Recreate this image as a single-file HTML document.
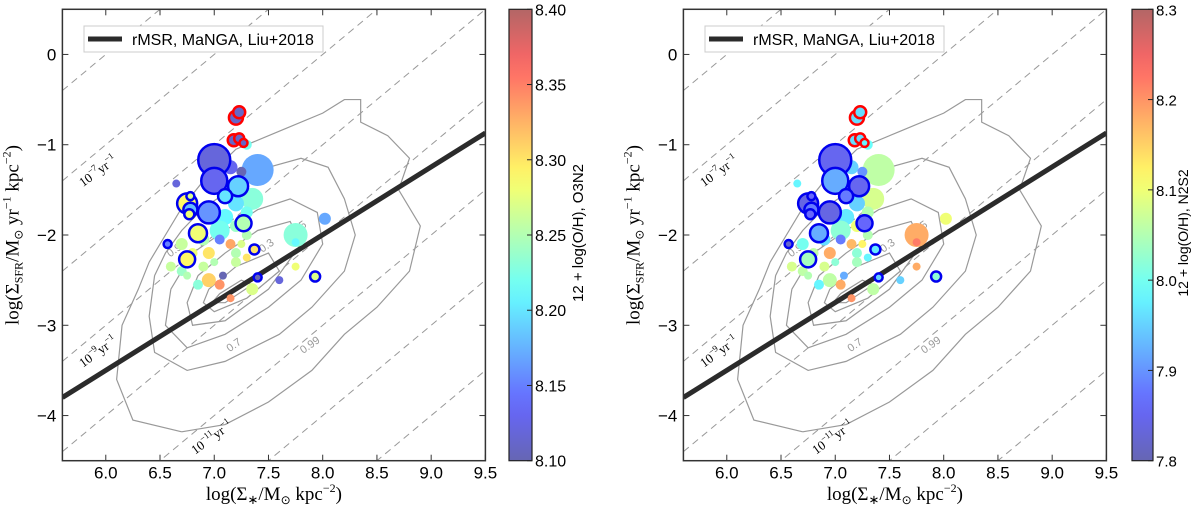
<!DOCTYPE html>
<html><head><meta charset="utf-8">
<style>
html,body{margin:0;padding:0;background:#fff;overflow:hidden;width:1200px;height:515px;}
svg{display:block;position:absolute;left:0;top:0;font-family:"Liberation Sans",sans-serif;}
.tk{font-size:17px;fill:#000;}
.serif{font-family:"Liberation Serif",serif;}
</style></head>
<body>
<svg id="fig" width="1200" height="515" viewBox="0 0 1200 515" xmlns="http://www.w3.org/2000/svg"></svg>
<script>
// ---- data ----
const xTicks = [6.0,6.5,7.0,7.5,8.0,8.5,9.0,9.5];
const yTicks = [0,-1,-2,-3,-4];
const ssfrLines = [-6,-7,-8,-9,-10,-11,-12,-13];
const ssfrLabels = [-7,-9,-11];
const relation = [[5.6,-3.8],[9.5,-0.87]];
const ptX = [7.20,7.23,7.18,7.23,7.27, 7.00,7.00,7.22,6.75,6.78,6.77,6.78,6.95,7.10,6.85,7.27,6.57,6.75,7.37,7.40,7.93, 7.40,7.30,7.15,7.25,6.65,7.35,7.20,7.30,7.10,7.05,7.20,7.30,7.05,7.15,6.90,6.70,6.80,6.95,7.20,7.25,6.60,6.70,6.90,7.00,7.20,7.30,6.95,7.05,6.85,7.08,7.35,7.15,7.60,7.75,7.75,8.02,7.75,6.75];
const ptY = [-0.70,-0.64,-0.95,-0.93,-0.98, -1.17,-1.40,-1.46,-1.65,-1.72,-1.77,-1.57,-1.75,-1.57,-1.98,-1.87,-2.10,-2.27,-2.16,-2.47,-2.46, -1.28,-1.00,-1.25,-1.30,-1.43,-1.60,-1.65,-1.75,-1.80,-1.95,-1.90,-2.00,-2.05,-2.10,-2.05,-2.10,-2.20,-2.20,-2.20,-2.10,-2.35,-2.40,-2.35,-2.30,-2.30,-2.25,-2.50,-2.55,-2.55,-2.45,-2.60,-2.70,-2.50,-2.00,-2.08,-1.82,-2.35,-2.45];
const ptR = [7,6,6,5,4, 16,13,10,10,7,5,4,11,7,9,8,4,8,5,4,5, 16,5,7,5,4,11,8,6,8,10,6,5,5,5,6,6,5,6,5,4,5,5,5,4,5,4,7,5,5,4,6,4,4,12,4,6,4,4];
const ptEdge = [2,2,2,2,2, 1,1,1,1,1,1,1,1,1,1,1,1,1,1,1,1, 0,0,0,0,0,0,0,0,0,0,0,0,0,0,0,0,0,0,0,0,0,0,0,0,0,0,0,0,0,0,0,0,0,0,0,0,0,0];
const zO3N2 = [8.11,8.11,8.11,8.11,8.11, 8.12,8.13,8.19,8.29,8.18,8.28,8.27,8.16,8.20,8.28,8.25,8.15,8.29,8.30,8.10,8.27, 8.17,8.22,8.13,8.10,8.12,8.23,8.20,8.22,8.21,8.22,8.24,8.25,8.15,8.33,8.25,8.26,8.28,8.30,8.25,8.27,8.26,8.24,8.26,8.25,8.26,8.30,8.31,8.34,8.23,8.10,8.27,8.34,8.12,8.23,8.21,8.17,8.28,8.25];
const zN2S2 = [7.96,7.96,7.96,7.96,7.98, 7.85,7.92,7.85,7.84,7.88,7.86,7.86,7.84,7.88,7.92,7.86,7.82,8.04,7.97,7.95,8.02, 8.06,7.99,7.95,7.90,7.98,8.08,7.95,8.05,7.97,8.02,8.10,8.05,7.88,8.17,7.96,8.00,8.06,8.18,8.02,8.12,8.08,8.06,8.08,8.02,8.04,7.98,8.06,8.18,7.98,7.92,8.06,8.20,7.95,8.18,8.22,8.10,8.18,8.05];
const contours = [
 [[6.7,-4.18],[6.25,-4.05],[6.1,-3.6],[6.15,-3.0],[6.3,-2.6],[6.4,-2.3],[6.55,-2.0],[6.7,-1.7],[6.9,-1.4],[7.2,-1.05],[7.6,-0.85],[8.0,-0.65],[8.2,-0.5],[8.35,-0.5],[8.35,-0.75],[8.6,-0.9],[8.8,-1.15],[8.7,-1.5],[8.9,-1.9],[8.8,-2.4],[8.5,-2.8],[8.2,-3.1],[7.9,-3.5],[7.5,-3.85],[7.1,-4.1],[6.7,-4.18]],
 [[6.45,-2.45],[6.55,-2.2],[6.7,-1.95],[6.9,-1.7],[7.15,-1.5],[7.5,-1.25],[7.8,-1.15],[8.05,-1.25],[8.2,-1.6],[8.3,-2.0],[8.2,-2.4],[7.9,-2.8],[7.6,-3.1],[7.1,-3.4],[6.75,-3.5],[6.45,-3.3],[6.4,-2.9],[6.45,-2.45]],
 [[6.6,-2.6],[6.8,-2.2],[7.1,-1.95],[7.4,-1.72],[7.7,-1.6],[7.95,-1.75],[8.0,-2.1],[7.8,-2.5],[7.5,-2.8],[7.1,-3.1],[6.75,-3.25],[6.55,-3.0],[6.6,-2.6]],
 [[6.85,-2.45],[7.1,-2.2],[7.4,-1.95],[7.7,-1.85],[7.8,-2.1],[7.5,-2.6],[7.1,-2.95],[6.8,-3.0],[6.75,-2.75],[6.85,-2.45]],
 [[6.95,-2.6],[7.2,-2.35],[7.5,-2.2],[7.6,-2.4],[7.3,-2.7],[7.0,-2.85],[6.9,-2.75],[6.95,-2.6]],
 [[7.05,-2.65],[7.25,-2.5],[7.35,-2.55],[7.1,-2.75],[6.98,-2.75],[7.05,-2.65]]
];
const contourLabels = ["0.9","0.3","0.5","0.7","0.99"];
const contourLabelX = [6.65,7.5,7.8,7.2,7.9];
const contourLabelY = [-2.2,-2.15,-1.95,-3.25,-3.25];
const cbTicksL = [8.10,8.15,8.20,8.25,8.30,8.35,8.40];
const cbTicksR = [7.8,7.9,8.0,8.1,8.2,8.3];

const NS="http://www.w3.org/2000/svg";
const svg=document.getElementById('fig');
function mk(tag,attrs,parent){const e=document.createElementNS(NS,tag);for(const k in attrs)e.setAttribute(k,attrs[k]);(parent||svg).appendChild(e);return e;}
function jet(t){t=Math.max(0,Math.min(1,t));const c=v=>Math.max(0,Math.min(1,v));
 const r=c(1.5-Math.abs(4*t-3)),g=c(1.5-Math.abs(4*t-2)),b=c(1.5-Math.abs(4*t-1));
 const a=0.6;const m=v=>Math.round(255*(v*a+(1-a)));return `rgb(${m(r)},${m(g)},${m(b)})`;}

function panel(off,zvals,zmin,zmax,cbTicks,cbLabel,cbx,cbw,cbTitleOff,cbFont,cbTitleFont,pfx,dec){
 const L=62.4+off,R=485.4+off,T=9.3,B=460.7;
 const sx=x=>L+(x-5.6)*(R-L)/3.9, sy=y=>T+(0.5-y)*(B-T)/5;
 const g=mk('g',{});
 
 
 const cp=mk('clipPath',{id:pfx+'clip'},g);mk('rect',{x:L,y:T,width:R-L,height:B-T},cp);
 const inner=mk('g',{'clip-path':`url(#${pfx}clip)`},g);
 ssfrLines.forEach(c=>{const l=mk('line',{x1:sx(5.6),y1:sy(5.6+c),x2:sx(9.5),y2:sy(9.5+c),stroke:'#999','stroke-width':1,'stroke-dasharray':'7,5'},inner);
  });
 contours.forEach(cn=>{const p=mk('polyline',{points:cn.map(q=>sx(q[0])+','+sy(q[1])).join(' '),fill:'none',stroke:'#999','stroke-width':1.2},inner);
  });
 contourLabels.forEach((s,i)=>{const t=mk('text',{x:sx(contourLabelX[i]),y:sy(contourLabelY[i]),'font-size':11,fill:'#999','text-anchor':'middle',transform:`rotate(-35 ${sx(contourLabelX[i])} ${sy(contourLabelY[i])})`},inner);t.textContent=s;
  });
 ssfrLabels.forEach(c=>{const xx=5.95+(c===-11?1.05:0),yy=xx+c-0.28;const t=mk('text',{x:sx(xx),y:sy(yy),'font-size':13,'class':'serif','text-anchor':'middle',transform:`rotate(-36 ${sx(xx)} ${sy(yy)})`},inner);
  t.innerHTML=`10<tspan dy="-6" font-size="9">−${-c}</tspan><tspan dy="6">yr</tspan><tspan dy="-6" font-size="9">−1</tspan>`;
  });
 const rl=mk('line',{x1:sx(relation[0][0]),y1:sy(relation[0][1]),x2:sx(relation[1][0]),y2:sy(relation[1][1]),stroke:'#2b2b2b','stroke-width':5},inner);
 
 const order=ptX.map((_,i)=>i).sort((a,b)=>(ptEdge[a]?1:0)-(ptEdge[b]?1:0));
 order.forEach(i=>{const col=jet((zvals[i]-zmin)/(zmax-zmin));
  const e=ptEdge[i];const c=mk('circle',{cx:sx(ptX[i]),cy:sy(ptY[i]),r:ptR[i],fill:col,stroke:e===1?'#0000ee':e===2?'#ff0000':'none','stroke-width':e?2.5:0},inner);
  });
 mk('rect',{x:L,y:T,width:R-L,height:B-T,fill:'none',stroke:'#333','stroke-width':1.5},g);
 xTicks.forEach(v=>{const x=sx(v);mk('line',{x1:x,y1:B,x2:x,y2:B-6,stroke:'#333'},g);mk('line',{x1:x,y1:T,x2:x,y2:T+6,stroke:'#333'},g);
  const t=mk('text',{x:x,y:B+18,'class':'tk','text-anchor':'middle'},g);t.textContent=v.toFixed(1);
  });
 yTicks.forEach(v=>{const y=sy(v);mk('line',{x1:L,y1:y,x2:L+6,y2:y,stroke:'#333'},g);mk('line',{x1:R,y1:y,x2:R-6,y2:y,stroke:'#333'},g);
  const t=mk('text',{x:L-6,y:y+6,'class':'tk','text-anchor':'end'},g);t.textContent=v===0?'0':'−'+(-v);
  });
 const xl=mk('text',{x:(L+R)/2,y:500,'class':'serif','font-size':19,'text-anchor':'middle'},g);
 xl.innerHTML='log(Σ<tspan font-size="13" dy="4">∗</tspan><tspan dy="-4">/M</tspan><tspan font-size="12" dy="4">⊙</tspan><tspan dy="-4"> kpc</tspan><tspan font-size="12" dy="-8">−2</tspan><tspan dy="8">)</tspan>';
 
 const yl=mk('text',{x:0,y:0,'class':'serif','font-size':19,'text-anchor':'middle',transform:`translate(${L-44},235) rotate(-90)`},g);
 yl.innerHTML='log(Σ<tspan font-size="12" dy="4">SFR</tspan><tspan dy="-4">/M</tspan><tspan font-size="12" dy="4">⊙</tspan><tspan dy="-4"> yr</tspan><tspan font-size="12" dy="-8">−1</tspan><tspan dy="8"> kpc</tspan><tspan font-size="12" dy="-8">−2</tspan><tspan dy="8">)</tspan>';
 
 const lg=mk('g',{},g);
 mk('rect',{x:84+off,y:26,width:239,height:26,fill:'#fff',stroke:'#ccc','stroke-width':1},lg);
 mk('line',{x1:88+off,y1:39,x2:122+off,y2:39,stroke:'#2b2b2b','stroke-width':5},lg);
 const lt=mk('text',{x:132+off,y:45,'font-size':16},lg);lt.textContent='rMSR, MaNGA, Liu+2018';
 
 const cg=mk('g',{},g);
 const gr=mk('linearGradient',{id:pfx+'grad',x1:0,y1:1,x2:0,y2:0},cg);
 for(let k=0;k<=20;k++)mk('stop',{offset:k/20,'stop-color':jet(k/20)},gr);
 mk('rect',{x:cbx,y:T,width:cbw,height:B-T,fill:`url(#${pfx}grad)`,stroke:'#222','stroke-width':1.2},cg);
 cbTicks.forEach(v=>{const y=B-(v-zmin)/(zmax-zmin)*(B-T);mk('line',{x1:cbx+cbw-5,y1:y,x2:cbx+cbw,y2:y,stroke:'#222'},cg);
  const t=mk('text',{x:cbx+cbw+3,y:y+6,'font-size':cbFont},cg);t.textContent=v.toFixed(dec);
  });
 const cl=mk('text',{x:0,y:0,'font-size':cbTitleFont,'text-anchor':'middle',transform:`translate(${cbx+cbw+cbTitleOff},233) rotate(-90)`},cg);cl.textContent=cbLabel;
 
}
panel(0,zO3N2,8.10,8.40,cbTicksL,'12 + log(O/H), O3N2',509,23,51,16,15,'left',2);
panel(621,zN2S2,7.8,8.3,cbTicksR,'12 + log(O/H), N2S2',1132,21,35,15,14,'right',1);
</script>
</body></html>
